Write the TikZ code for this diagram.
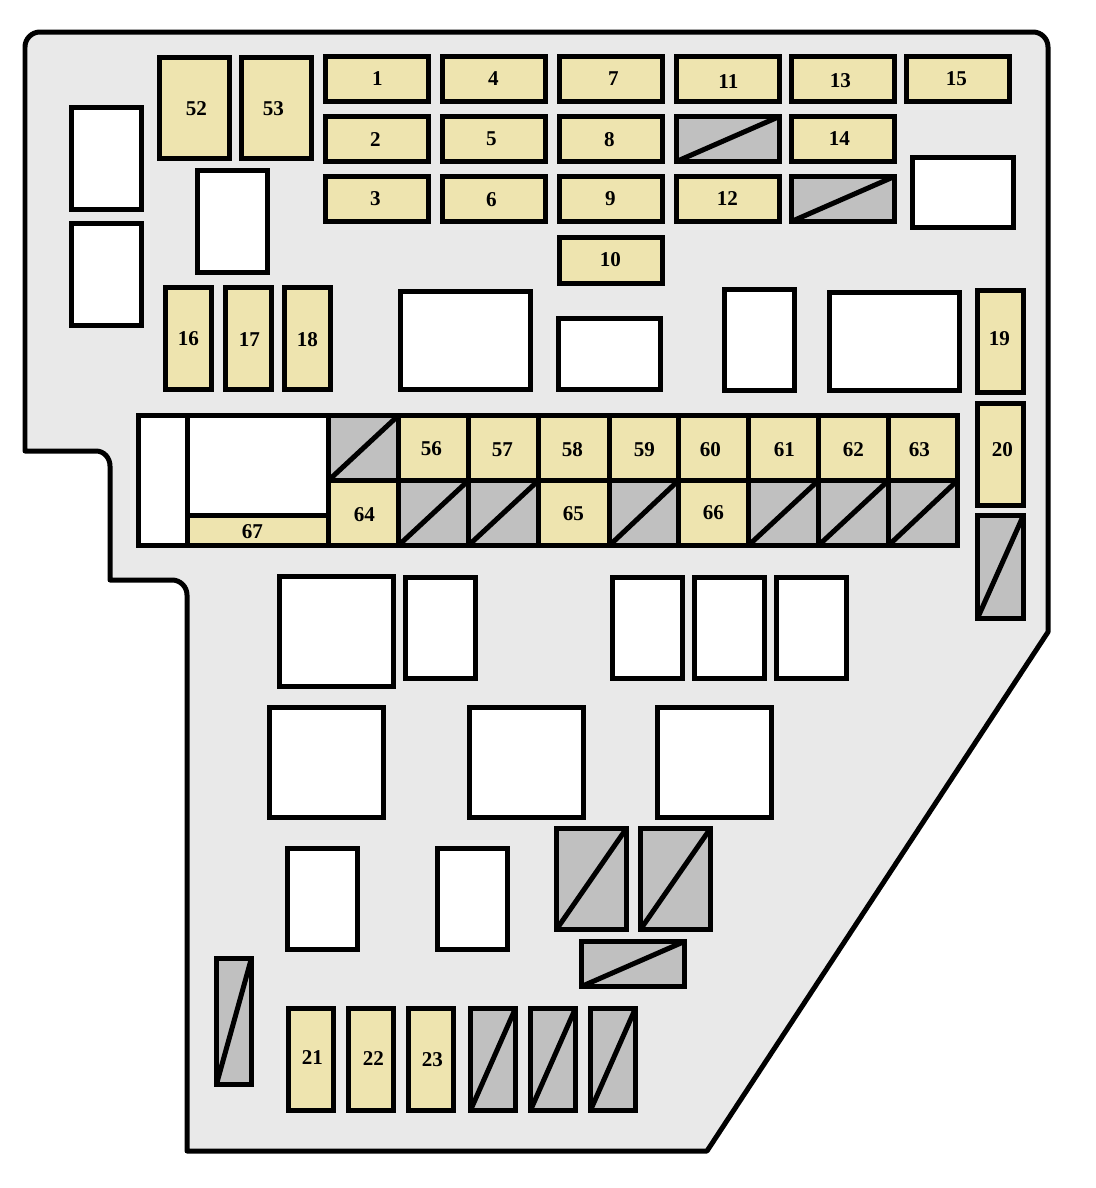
\documentclass[tikz,border=0pt]{standalone}
\usepackage{fontspec}
\setmainfont{Liberation Serif}

\definecolor{boxgray}{HTML}{E9E9E9}
\definecolor{fusefill}{HTML}{EEE4AF}
\definecolor{sparefill}{HTML}{C0C0C0}

\tikzset{
	slot/.style={draw=black,line width=0.1cm,inner sep=0pt,outer sep=0pt},
	fuse/.style={slot,fill=fusefill},
	relay/.style={slot,fill=white},
	spare/.style={slot,fill=sparefill},
	fusenum/.style={inner sep=0pt,font=\fontsize{12}{14}\selectfont\bfseries}
}

\begin{document}
\begin{tikzpicture}[x=0.02cm,y=-0.02cm]
\useasboundingbox (0,0) rectangle (1096,1188);

% housing
\draw[fill=boxgray,line width=0.1cm,line join=round] (25,451) -- (25,47) to[out=90,in=180] (40,32) -- (1033,32) to[out=0,in=90] (1048,47) -- (1048,632) -- (707,1151) -- (187,1151) -- (187,595) to[out=90,in=0] (172,580) -- (110,580) -- (110,466) to[out=90,in=0] (96,451) -- cycle;

\begin{scope}[xshift=-0.012cm,yshift=0.01cm]
% empty slots
\foreach \xa/\ya/\xb/\yb [count=\i] in {
	72/108/142/210, 72/224/142/326, 198/171/268/273, 913/158/1014/228,
	401/292/531/390, 559/319/661/390, 725/290/795/391, 830/293/960/391,
	139/416/188/546, 188/416/329/516,
	280/577/394/687, 406/578/476/679, 613/578/683/679, 695/578/765/679, 777/578/847/679,
	270/708/384/818, 470/708/584/818, 658/708/772/818,
	288/849/358/950, 438/849/508/950} {
	\node[relay,minimum width=(\xb-\xa)*0.02cm,minimum height=(\yb-\ya)*0.02cm] (r\i) at ({(\xa+\xb)/2},{(\ya+\yb)/2}) {};
}

% crossed out slots
\foreach \xa/\ya/\xb/\yb [count=\i] in {
	677/117/780/162, 792/177/895/222, 978/516/1024/619,
	329/416/399/481, 399/481/469/546, 469/481/539/546, 610/481/679/546,
	749/481/819/546, 819/481/889/546, 889/481/958/546,
	557/829/627/930, 641/829/711/930, 582/942/685/987, 217/959/252/1085,
	471/1009/516/1111, 531/1009/576/1111, 591/1009/636/1111} {
	\node[spare,minimum width=(\xb-\xa)*0.02cm,minimum height=(\yb-\ya)*0.02cm] (s\i) at ({(\xa+\xb)/2},{(\ya+\yb)/2}) {};
	\draw[line width=0.1cm] (s\i.south west) -- (s\i.north east);
}

% fuses, with the place of the number
\foreach \n/\xa/\ya/\xb/\yb/\lx/\ly in {
	1/326/57/429/102/378/79, 4/443/57/546/102/494/79, 7/560/57/663/102/614/79,
	11/677/57/780/102/729/82, 13/792/57/895/102/841/81, 15/907/57/1010/102/957/79,
	2/326/117/429/162/376/140, 5/443/117/546/162/492/139, 8/560/117/663/162/610/140,
	14/792/117/895/162/840/139,
	3/326/177/429/222/376/199, 6/443/177/546/222/492/200, 9/560/177/663/222/611/199,
	12/677/177/780/222/728/199, 10/560/238/663/284/611/260,
	52/160/58/230/159/197/109, 53/242/58/312/159/274/109,
	16/166/288/212/390/189/339, 17/226/288/272/390/250/340, 18/285/288/331/390/308/340,
	19/978/291/1024/393/1000/339, 20/978/404/1024/506/1003/450,
	56/399/416/469/481/432/449, 57/469/416/539/481/503/450, 58/539/416/610/481/573/450,
	59/610/416/679/481/645/450, 60/679/416/749/481/711/450, 61/749/416/819/481/785/450,
	62/819/416/889/481/854/450, 63/889/416/958/481/920/450,
	64/329/481/399/546/365/515, 65/539/481/610/546/574/514, 66/679/481/749/546/714/513,
	67/188/516/329/546/253/532,
	21/289/1009/334/1111/313/1058, 22/349/1009/394/1111/374/1059, 23/409/1009/454/1111/433/1060} {
	\node[fuse,minimum width=(\xb-\xa)*0.02cm,minimum height=(\yb-\ya)*0.02cm] (f\n) at ({(\xa+\xb)/2},{(\ya+\yb)/2}) {};
	\node[fusenum] (n\n) at (\lx,\ly) {\n};
}
\end{scope}
\end{tikzpicture}
\end{document}
